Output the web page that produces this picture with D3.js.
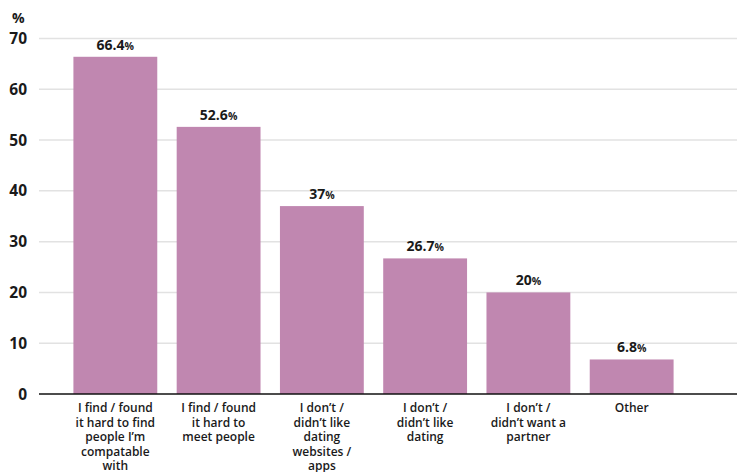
<!DOCTYPE html>
<html>
<head>
<meta charset="utf-8">
<script src="https://cdn.jsdelivr.net/npm/d3@7"></script>
<style>
  body { margin: 0; background: #fff; }
  text { font-family: "Open Sans", "Noto Sans", sans-serif; fill: #1a1a1a; }
</style>
</head>
<body>
<div id="chart"></div>
<script>
var categories = [
  ["I find / found", "it hard to find", "people I\u2019m", "compatable", "with"],
  ["I find / found", "it hard to", "meet people"],
  ["I don\u2019t /", "didn\u2019t like", "dating", "websites /", "apps"],
  ["I don\u2019t /", "didn\u2019t like", "dating"],
  ["I don\u2019t /", "didn\u2019t want a", "partner"],
  ["Other"]
];
var values = [66.4, 52.6, 37, 26.7, 20, 6.8];
var yTicks = [0, 10, 20, 30, 40, 50, 60, 70];

var svgWidth = 737;
var svgHeight = 472;
var svg = d3.select("#chart")
            .append("svg")
            .attr("width", svgWidth)
            .attr("height", svgHeight);

var xScale = d3.scaleBand()
    .domain(d3.range(values.length))
    .range([54, 693])
    .paddingInner(0.188)
    .paddingOuter(0.188);
var yScale = d3.scaleLinear().domain([0, 70]).range([394, 38.5]);

// gridlines
svg.append("g").selectAll("line")
    .data(yTicks.filter(d => d > 0))
    .enter()
    .append("line")
    .attr("x1", 39)
    .attr("x2", svgWidth)
    .attr("y1", d => yScale(d))
    .attr("y2", d => yScale(d))
    .attr("stroke", "#e2e2e2")
    .attr("stroke-width", 1.5);

// y tick labels
svg.append("g").selectAll("text")
    .data(yTicks)
    .enter()
    .append("text")
    .attr("x", 27)
    .attr("y", d => yScale(d) + 5.5)
    .attr("text-anchor", "end")
    .attr("font-size", "15.5px")
    .attr("font-weight", "bold")
    .text(d => d);

svg.append("text")
    .attr("x", 12)
    .attr("y", 23)
    .attr("font-size", "14px")
    .attr("font-weight", "bold")
    .text("%");

// bars
svg.append("g").selectAll("rect")
    .data(values)
    .enter()
    .append("rect")
    .attr("x", (d, i) => xScale(i))
    .attr("y", d => yScale(d))
    .attr("width", xScale.bandwidth())
    .attr("height", d => yScale(0) - yScale(d))
    .attr("fill", "#c087b0");

// value labels
var labels = svg.append("g").selectAll("text")
    .data(values)
    .enter()
    .append("text")
    .attr("x", (d, i) => xScale(i) + xScale.bandwidth() / 2)
    .attr("y", d => yScale(d) - 7)
    .attr("text-anchor", "middle")
    .attr("font-size", "14px")
    .attr("font-weight", "bold");
labels.append("tspan").text(d => d);
labels.append("tspan").attr("font-size", "10.5px").text("%");

// baseline
svg.append("line")
    .attr("x1", 39)
    .attr("x2", svgWidth)
    .attr("y1", yScale(0))
    .attr("y2", yScale(0))
    .attr("stroke", "#111")
    .attr("stroke-width", 1.5);

// category labels
var cats = svg.append("g").selectAll("text")
    .data(categories)
    .enter()
    .append("text")
    .attr("x", (d, i) => xScale(i) + xScale.bandwidth() / 2)
    .attr("y", 412)
    .attr("text-anchor", "middle")
    .attr("font-size", "12px")
    .attr("font-weight", 600);
cats.selectAll("tspan")
    .data(d => d)
    .enter()
    .append("tspan")
    .attr("x", function() { return d3.select(this.parentNode).attr("x"); })
    .attr("dy", (d, i) => i === 0 ? 0 : 14.6)
    .text(d => d);
</script>
</body>
</html>
